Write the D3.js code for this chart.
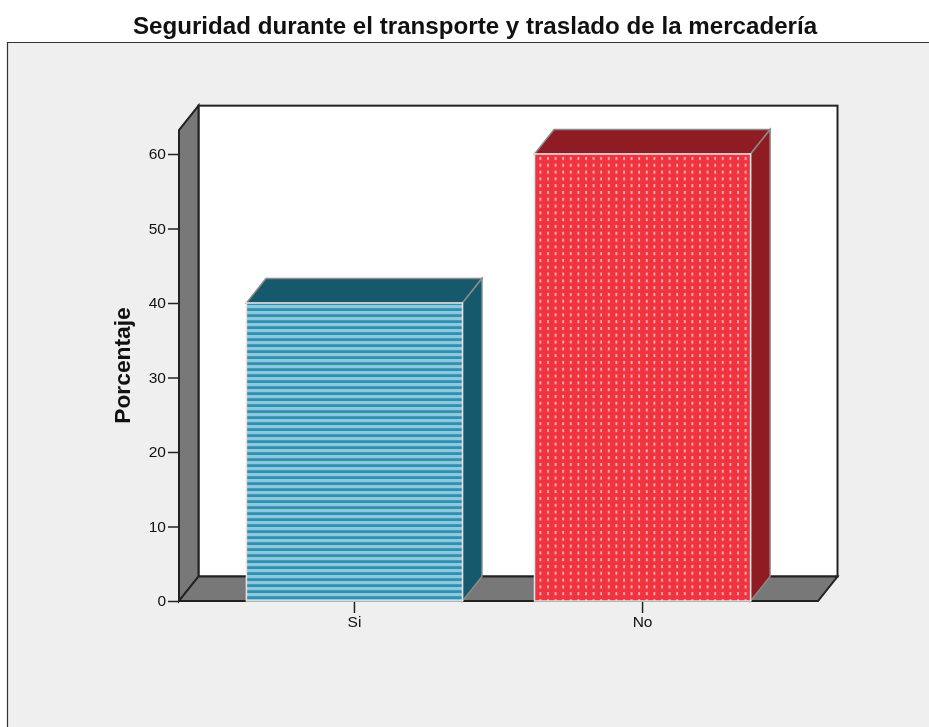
<!DOCTYPE html>
<html>
<head>
<meta charset="utf-8">
<script src="https://cdn.jsdelivr.net/npm/d3@7"></script>
<style>
  html, body { margin: 0; padding: 0; background: #fff; }
  svg { display: block; filter: blur(0.45px); }
  text { font-family: "Liberation Sans", Arial, sans-serif; fill: #111; }
</style>
</head>
<body>
<svg width="929" height="727"></svg>
<script>
const categories = ['Si', 'No'];
const values = [40, 60];
const yTicks = [0, 10, 20, 30, 40, 50, 60];
const title = 'Seguridad durante el transporte y traslado de la mercadería';
const yLabel = 'Porcentaje';

const svg = d3.select('svg');
const width = +svg.attr('width');
const height = +svg.attr('height');

const left = 179, right = 818, bottom = 601;
const depthX = 19.5, depthY = -24.5;

const xScale = d3.scaleBand()
  .domain(categories)
  .range([left, right])
  .paddingInner(0.25)
  .paddingOuter(0.234);

const yScale = d3.scaleLinear()
  .domain([0, 60])
  .range([bottom, 154]);

const yMax = 63.2;
const yTop = yScale(yMax);

// patterns
const defs = svg.append('defs');
const stripes = defs.append('pattern')
  .attr('id', 'stripes')
  .attr('patternUnits', 'userSpaceOnUse')
  .attr('width', 8).attr('height', 6)
  .attr('y', yScale(40));
stripes.append('rect').attr('width', 8).attr('height', 6).attr('fill', '#2f90b4');
stripes.append('rect').attr('y', 2).attr('width', 8).attr('height', 3.2).attr('fill', '#8ccadb');

const dots = defs.append('pattern')
  .attr('id', 'dots')
  .attr('patternUnits', 'userSpaceOnUse')
  .attr('width', 7.6).attr('height', 6.8)
  .attr('x', xScale('No') + 2).attr('y', yScale(60) + 1);
dots.append('rect').attr('width', 7.6).attr('height', 6.8).attr('fill', '#f0343f');
dots.append('rect').attr('x', 3).attr('y', 2).attr('width', 1.8).attr('height', 3).attr('fill', '#fbb4ba');

// panel
svg.append('rect')
  .attr('x', 7).attr('y', 42)
  .attr('width', width - 7).attr('height', height - 42)
  .attr('fill', '#efefef');
svg.append('path')
  .attr('d', `M7.5,${height + 5}V42.5H${width + 5}`)
  .attr('fill', 'none').attr('stroke', '#333').attr('stroke-width', 1.2);

svg.append('text')
  .attr('x', 475).attr('y', 34)
  .attr('text-anchor', 'middle')
  .attr('font-size', 24.15).attr('font-weight', 'bold')
  .text(title);

// back wall, side wall, floor
const lineStyle = sel => sel.attr('stroke', '#222').attr('stroke-width', 2).attr('stroke-linejoin', 'miter');

svg.append('rect')
  .attr('x', left + depthX).attr('y', yTop + depthY)
  .attr('width', right - left).attr('height', bottom - yTop)
  .attr('fill', '#fff')
  .call(lineStyle);

svg.append('path')
  .attr('d', `M${left},${bottom}V${yTop}L${left + depthX},${yTop + depthY}V${bottom + depthY}Z`)
  .attr('fill', '#787878')
  .call(lineStyle);

svg.append('path')
  .attr('d', `M${left},${bottom}H${right}L${right + depthX},${bottom + depthY}H${left + depthX}Z`)
  .attr('fill', '#787878')
  .call(lineStyle);

// axes
const yAxis = d3.axisLeft(yScale).tickValues(yTicks).tickSize(11).tickPadding(2);
const yAxisG = svg.append('g')
  .attr('transform', `translate(${left},0)`)
  .call(yAxis);
yAxisG.select('.domain').remove();
yAxisG.selectAll('.tick line').attr('stroke', '#222').attr('stroke-width', 1.5);
yAxisG.selectAll('.tick text').style('font-size', '15.5px');

const xAxis = d3.axisBottom(xScale).tickSize(11).tickPadding(3);
const xAxisG = svg.append('g')
  .attr('transform', `translate(0,${bottom + 1})`)
  .call(xAxis);
xAxisG.select('.domain').remove();
xAxisG.selectAll('.tick line').attr('stroke', '#222').attr('stroke-width', 1.5);
xAxisG.selectAll('.tick text').style('font-size', '15.5px');

svg.append('text')
  .attr('transform', `translate(130,365.5) rotate(-90)`)
  .attr('text-anchor', 'middle')
  .attr('font-size', 22.8).attr('font-weight', 'bold')
  .text(yLabel);

// bars
const barStyle = [
  { fill: 'url(#stripes)', dark: '#17596c' },
  { fill: 'url(#dots)', dark: '#8e1c22' }
];

const bars = svg.selectAll('.bar')
  .data(categories.map((c, i) => ({ c, v: values[i], s: barStyle[i] })))
  .enter().append('g').attr('class', 'bar');

bars.append('path')
  .attr('d', d => {
    const x0 = xScale(d.c), x1 = x0 + xScale.bandwidth(), y = yScale(d.v);
    return `M${x0},${y}L${x0 + depthX},${y + depthY}H${x1 + depthX}L${x1},${y}Z`;
  })
  .attr('fill', d => d.s.dark)
  .attr('stroke', '#8a8a8a').attr('stroke-width', 1.5);

bars.append('path')
  .attr('d', d => {
    const x1 = xScale(d.c) + xScale.bandwidth(), y = yScale(d.v);
    return `M${x1},${y}L${x1 + depthX},${y + depthY}V${bottom + depthY}L${x1},${bottom}Z`;
  })
  .attr('fill', d => d.s.dark)
  .attr('stroke', '#8a8a8a').attr('stroke-width', 1.5);

bars.append('rect')
  .attr('x', d => xScale(d.c))
  .attr('y', d => yScale(d.v))
  .attr('width', xScale.bandwidth())
  .attr('height', d => bottom - yScale(d.v))
  .attr('fill', d => d.s.fill)
  .attr('stroke', '#e4e4e4').attr('stroke-width', 1.5);
</script>
</body>
</html>
